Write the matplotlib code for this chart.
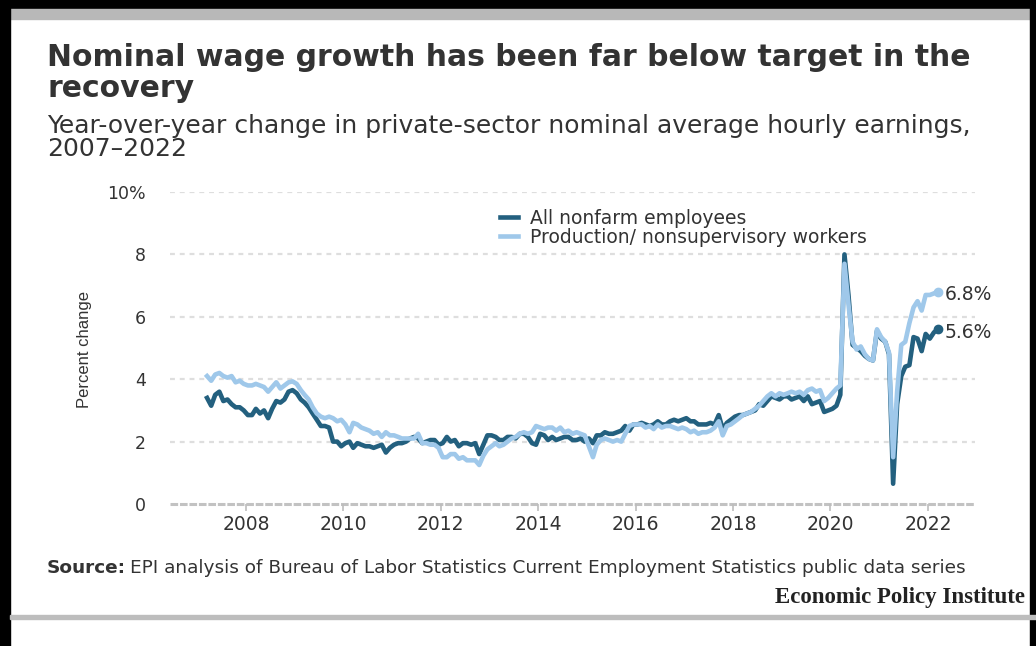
import pandas as pd
import matplotlib.pyplot as plt
import matplotlib.dates as mdates
from matplotlib.patches import Rectangle

# Year-over-year change in average hourly earnings, monthly, Mar 2007 - Mar 2022
all_nonfarm = [
    3.4, 3.15, 3.5, 3.6, 3.3, 3.35, 3.2, 3.1, 3.1, 3.0,                      # 2007
    2.85, 2.85, 3.05, 2.9, 3.0, 2.75, 3.05, 3.3, 3.25, 3.35, 3.6, 3.65,       # 2008
    3.55, 3.35, 3.25, 3.1, 2.9, 2.7, 2.5, 2.5, 2.45, 2.0, 2.0, 1.85,          # 2009
    1.95, 2.0, 1.8, 1.95, 1.9, 1.85, 1.85, 1.8, 1.85, 1.9, 1.65, 1.8,         # 2010
    1.9, 1.95, 1.95, 2.0, 2.1, 2.15, 2.1, 1.95, 2.0, 2.05, 2.05, 1.9,         # 2011
    1.95, 2.15, 2.0, 2.05, 1.85, 1.95, 1.95, 1.9, 1.95, 1.6, 1.9, 2.2,        # 2012
    2.2, 2.15, 2.05, 2.05, 2.15, 2.15, 2.1, 2.25, 2.25, 2.15, 1.95, 1.9,      # 2013
    2.25, 2.2, 2.05, 2.15, 2.05, 2.1, 2.15, 2.15, 2.05, 2.05, 2.1, 2.0,       # 2014
    2.1, 1.95, 2.2, 2.2, 2.3, 2.25, 2.25, 2.3, 2.35, 2.5, 2.35, 2.55,         # 2015
    2.55, 2.6, 2.55, 2.5, 2.55, 2.65, 2.55, 2.55, 2.65, 2.7, 2.65, 2.7,       # 2016
    2.75, 2.65, 2.65, 2.55, 2.55, 2.55, 2.6, 2.55, 2.85, 2.4, 2.6, 2.7,       # 2017
    2.8, 2.85, 2.85, 2.9, 2.95, 3.0, 3.2, 3.15, 3.3, 3.45, 3.4, 3.35,         # 2018
    3.45, 3.45, 3.35, 3.4, 3.45, 3.3, 3.45, 3.2, 3.25, 3.3, 2.95, 3.0,        # 2019
    3.05, 3.15, 3.5, 8.0, 6.7, 5.1, 5.0, 4.9, 4.75, 4.65, 4.6, 5.55,          # 2020
    5.3, 5.2, 4.8, 0.65, 3.2, 4.1, 4.4, 4.45, 5.35, 5.3, 4.9, 5.45,           # 2021
    5.3, 5.5, 5.6,                                                            # 2022
]
production = [
    4.1, 3.95, 4.15, 4.2, 4.1, 4.05, 4.1, 3.9, 3.95, 3.85,                    # 2007
    3.8, 3.8, 3.85, 3.8, 3.75, 3.6, 3.75, 3.9, 3.7, 3.8, 3.9, 3.93,           # 2008
    3.85, 3.65, 3.5, 3.35, 3.1, 2.9, 2.8, 2.75, 2.8, 2.75, 2.65, 2.7,         # 2009
    2.55, 2.3, 2.6, 2.55, 2.45, 2.4, 2.35, 2.25, 2.3, 2.15, 2.3, 2.2,         # 2010
    2.2, 2.15, 2.1, 2.1, 2.1, 2.1, 2.25, 1.95, 1.95, 1.9, 1.9, 1.8,           # 2011
    1.5, 1.5, 1.6, 1.6, 1.45, 1.5, 1.4, 1.4, 1.4, 1.25, 1.55, 1.75,           # 2012
    1.85, 1.95, 1.85, 1.9, 2.0, 2.1, 2.15, 2.25, 2.3, 2.25, 2.3, 2.5,         # 2013
    2.45, 2.4, 2.45, 2.45, 2.35, 2.45, 2.3, 2.35, 2.25, 2.3, 2.25, 2.2,       # 2014
    1.85, 1.5, 1.9, 2.05, 2.1, 2.05, 2.0, 2.05, 2.0, 2.25, 2.5, 2.55,         # 2015
    2.55, 2.55, 2.45, 2.5, 2.4, 2.55, 2.45, 2.5, 2.5, 2.45, 2.4, 2.45,        # 2016
    2.4, 2.3, 2.35, 2.25, 2.3, 2.3, 2.35, 2.45, 2.65, 2.2, 2.5, 2.55,         # 2017
    2.65, 2.75, 2.85, 2.9, 2.95, 3.05, 3.15, 3.3, 3.45, 3.55, 3.45, 3.55,     # 2018
    3.5, 3.55, 3.6, 3.55, 3.6, 3.5, 3.65, 3.7, 3.6, 3.65, 3.3, 3.4,           # 2019
    3.55, 3.7, 3.8, 7.7, 6.4, 5.2, 4.95, 5.05, 4.8, 4.65, 4.6, 5.6,           # 2020
    5.35, 5.2, 4.85, 1.5, 3.6, 5.1, 5.2, 5.8, 6.3, 6.5, 6.2, 6.7,             # 2021
    6.7, 6.75, 6.8,                                                           # 2022
]
months = pd.date_range('2007-03-01', '2022-03-01', freq='MS') + pd.Timedelta(days=14)

y_ticks = [0, 2, 4, 6, 8, 10]
y_tick_labels = ['0', '2', '4', '6', '8', '10%']
x_ticks = pd.to_datetime(['2008-01-01', '2010-01-01', '2012-01-01', '2014-01-01',
                          '2016-01-01', '2018-01-01', '2020-01-01', '2022-01-01'])

DARK = '#23607f'
LIGHT = '#9fc8ea'
TEXT = '#333333'

plt.rcParams['font.family'] = ['DejaVu Sans']

fig = plt.figure(figsize=(10.36, 6.46), dpi=100)

# page frame
fig.patches.append(Rectangle((0, 1 - 9 / 646), 1, 9 / 646, transform=fig.transFigure,
                             color='black', zorder=0))
fig.patches.append(Rectangle((10 / 1036, 1 - 19 / 646), 1020 / 1036, 10 / 646,
                             transform=fig.transFigure, color='#b8b8b8', zorder=0))
fig.patches.append(Rectangle((0, 0), 10 / 1036, 1, transform=fig.transFigure,
                             color='black', zorder=0))
fig.patches.append(Rectangle((1030 / 1036, 0), 6 / 1036, 1, transform=fig.transFigure,
                             color='black', zorder=0))
fig.patches.append(Rectangle((10 / 1036, 1 - 619 / 646), 1026 / 1036, 4 / 646,
                             transform=fig.transFigure, color='#bdbdbd', zorder=0))

ax = fig.add_axes([170 / 1036, 1 - 504 / 646, 805 / 1036, 312 / 646])

for v in y_ticks[1:]:
    ax.axhline(v, color='#dedede', lw=1.6, ls=(0, (2.2, 2.2)), zorder=1)
ax.axhline(0, color='#c2c2c2', lw=2.2, ls=(0, (2.5, 0.6)), zorder=1, clip_on=False)

ax.plot(months, all_nonfarm, color=DARK, lw=3.3, label='All nonfarm employees',
        solid_joinstyle='round', zorder=3)
ax.plot(months, production, color=LIGHT, lw=3.3, label='Production/ nonsupervisory workers',
        solid_joinstyle='round', zorder=4)

# end points with labels
ax.plot(months[-1], all_nonfarm[-1], 'o', color=DARK, ms=6, zorder=5)
ax.plot(months[-1], production[-1], 'o', color=LIGHT, ms=6, zorder=5)
ax.annotate(f'{production[-1]:.1f}%', (months[-1], production[-1]), xytext=(5, -2),
            textcoords='offset points', va='center', ha='left', fontsize=13.5, color=TEXT)
ax.annotate(f'{all_nonfarm[-1]:.1f}%', (months[-1], all_nonfarm[-1]), xytext=(5, -2),
            textcoords='offset points', va='center', ha='left', fontsize=13.5, color=TEXT)

ax.set_ylim(0, 10)
ax.set_xlim(pd.Timestamp('2006-06-10'), pd.Timestamp('2022-12-20'))
ax.set_yticks(y_ticks)
ax.set_yticklabels(y_tick_labels)
ax.set_xticks(x_ticks)
ax.xaxis.set_major_formatter(mdates.DateFormatter('%Y'))
ax.tick_params(axis='y', length=0, pad=17.5, labelsize=12.5, labelcolor=TEXT)
ax.tick_params(axis='x', length=5, width=1.2, color='#bdbdbd', pad=3, labelsize=13.5,
               labelcolor=TEXT)
for s in ax.spines.values():
    s.set_visible(False)

leg = ax.legend(loc='upper left', bbox_to_anchor=(0.4, 0.97), frameon=False,
                fontsize=13.5, handlelength=1.0, handletextpad=0.65, labelspacing=0.0,
                borderaxespad=0)
for t in leg.get_texts():
    t.set_color(TEXT)

fig.text(85 / 1036, 1 - 350 / 646, 'Percent change', rotation=90, ha='center', va='center',
         fontsize=12, color=TEXT, family=['Liberation Sans', 'DejaVu Sans'])

fig.text(47 / 1036, 1 - 43 / 646,
         'Nominal wage growth has been far below target in the\nrecovery',
         ha='left', va='top', fontsize=21.5, fontweight='bold', color=TEXT, linespacing=1.1)
fig.text(47 / 1036, 1 - 114 / 646,
         'Year-over-year change in private-sector nominal average hourly earnings,\n2007\u20132022',
         ha='left', va='top', fontsize=18, color=TEXT, linespacing=0.95)

src = fig.text(47 / 1036, 1 - 568 / 646, 'Source:', ha='left', va='center', fontsize=13.3,
               fontweight='bold', color=TEXT)
renderer = fig.canvas.get_renderer()
bb = src.get_window_extent(renderer)
fig.text((bb.x1 + 4) / 1036, 1 - 568 / 646,
         'EPI analysis of Bureau of Labor Statistics Current Employment Statistics public data series',
         ha='left', va='center', fontsize=13.3, color=TEXT)

fig.text(1025 / 1036, 1 - 597 / 646, 'Economic Policy Institute', ha='right', va='center',
         fontsize=16.5, fontweight='bold', color='#222222',
         family=['Liberation Serif', 'DejaVu Serif'])

fig.savefig('out.png', dpi=100)
